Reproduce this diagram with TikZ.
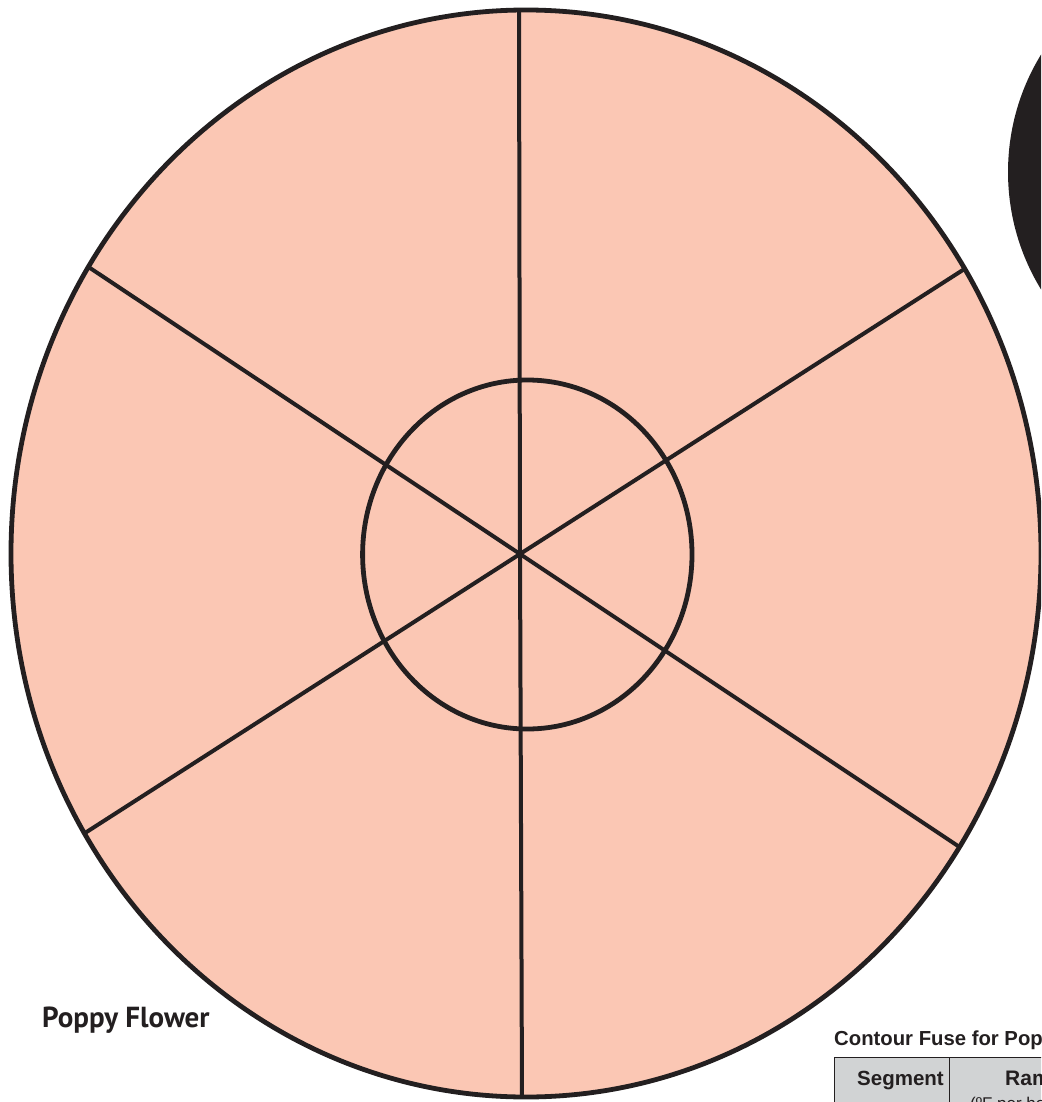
\documentclass[tikz,border=0pt]{standalone}
\usepackage{fontspec}
\setmainfont{Liberation Sans}
\newfontfamily\myriadlike{PT Sans}
\definecolor{petal}{HTML}{FBC7B4}
\definecolor{ink}{HTML}{231F20}
\definecolor{cellgray}{HTML}{D1D3D4}
\begin{document}
\begin{tikzpicture}[x=1pt,y=-1pt,
  outline/.style={draw=ink,line width=4.8pt},
  spoke/.style={draw=ink,line width=4pt},
  tablerule/.style={draw=ink,line width=1pt}]
\useasboundingbox (0,0) rectangle (1041,1102);
\clip (0,0) rectangle (1041,1102);
% black shape top right
\fill[ink] (1233,172) circle [radius=225];
% flower
\coordinate (c) at (520,554);
\fill[petal] (526,553.5) ellipse [x radius=515, y radius=543.5];
\coordinate (top) at (519,10);
\coordinate (bot) at (522,1097);
\coordinate (ul) at (90,268);
\coordinate (lr) at (961,848);
\coordinate (ll) at (85,833);
\coordinate (ur) at (966,268);
\draw[spoke] (top) -- (c) -- (bot);
\draw[spoke] (ul) -- (c) -- (lr);
\draw[spoke] (ll) -- (c) -- (ur);
\draw[outline] (527.3,554.5) ellipse [x radius=164.7, y radius=174.5];
\draw[outline] (526,553.5) ellipse [x radius=515, y radius=543.5];
% labels
\node[anchor=base west,inner sep=0,text=ink,font=\myriadlike\bfseries\fontsize{29}{32}\selectfont] (title) at (42,1027) {Poppy Flower};
\node[anchor=base west,inner sep=0,text=ink,font=\bfseries\fontsize{20.3}{24}\selectfont] (caption) at (834,1045) {Contour Fuse for Poppy Flower};
% table
\fill[cellgray] (834,1057) rectangle (1045,1110);
\draw[tablerule] (834,1110) -- (834,1057) -- (1045,1057);
\draw[tablerule] (949,1057) -- (949,1110);
\node[anchor=base west,inner sep=0,text=ink,font=\bfseries\fontsize{20.5}{24}\selectfont] (seg) at (857,1085) {Segment};
\node[anchor=base west,inner sep=0,text=ink,font=\bfseries\fontsize{21}{24}\selectfont] (ramp) at (1005,1085) {Ramp};
\node[anchor=base west,inner sep=0,text=ink,font=\fontsize{17}{20}\selectfont] (unit) at (970,1109) {(ºF per hour)};
\end{tikzpicture}
\end{document}
